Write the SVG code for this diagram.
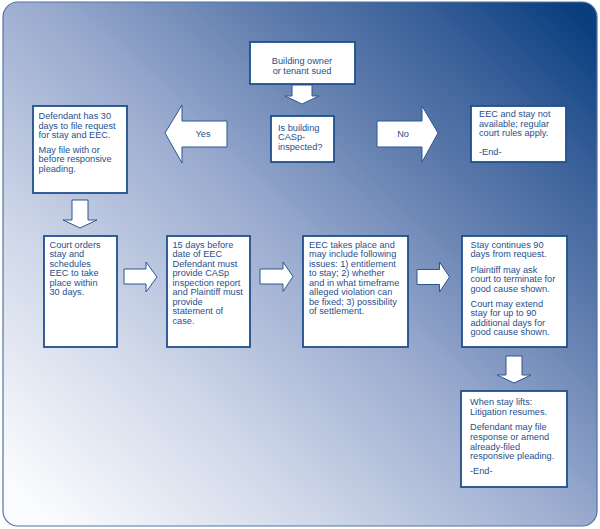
<svg xmlns="http://www.w3.org/2000/svg" width="600" height="529" viewBox="0 0 600 529">
<defs>
<linearGradient id="bg" gradientUnits="userSpaceOnUse" x1="60" y1="529" x2="560" y2="0">
<stop offset="0" stop-color="#fafbfd"/>
<stop offset="0.25" stop-color="#d0d8e9"/>
<stop offset="0.5" stop-color="#9aabcf"/>
<stop offset="0.7" stop-color="#617eae"/>
<stop offset="0.85" stop-color="#3b619a"/>
<stop offset="1" stop-color="#0a3f7f"/>
</linearGradient>
<style>
.box{fill:#fff;stroke:#1f4f8e;stroke-width:1.8}
.arr{fill:#fff;stroke:#2a5692;stroke-width:1}
text{font-family:"Liberation Sans",Arial,sans-serif;font-size:9.2px;fill:#1f4f8e}
.c{text-anchor:middle}
</style>
</defs>
<rect x="3" y="2" width="594" height="524" rx="15" ry="15" fill="url(#bg)" stroke="#4f74a8" stroke-width="1.2"/>
<g id="connectors">
<polygon class="arr" points="292,85 312,85 312,96 319,96 302,104 285,96 292,96"/>
<polygon class="arr" points="227,121 182,121 182,105 165,133 182,163 182,147 227,147"/>
<text class="c" x="203" y="136.5">Yes</text>
<polygon class="arr" points="377,121 422,121 422,106 438,133 422,162 422,147 377,147"/>
<text class="c" x="403" y="136.5">No</text>
<polygon class="arr" points="72,200 88,200 88,220 97,220 80,228 63,220 72,220"/>
<polygon class="arr" points="124,269 146,269 146,262 157,277 146,292 146,284 124,284"/>
<polygon class="arr" points="260,269 283,269 283,262 293,276.5 283,291.5 283,284 260,284"/>
<polygon class="arr" points="417,269.5 439.5,269.5 439.5,262 449.5,277 439.5,292 439.5,284.5 417,284.5"/>
<polygon class="arr" points="506,356 522,356 522,375 531,375 514,383 497,375 506,375"/>
</g>
<g id="sued">
<rect class="box" x="250" y="42" width="105" height="42"/>
<text class="c" x="302" y="63.5">Building owner</text>
<text class="c" x="302" y="74">or tenant sued</text>
</g>
<g id="inspected">
<rect class="box" x="271" y="116" width="63" height="46"/>
<text x="278" y="130.5">Is building</text>
<text x="278" y="140">CASp-</text>
<text x="278" y="149.5">inspected?</text>
</g>
<g id="defendant30">
<rect class="box" x="33" y="106" width="94" height="87"/>
<text x="38.5" y="119">Defendant has 30</text>
<text x="38.5" y="128.5">days to file request</text>
<text x="38.5" y="138">for stay and EEC.</text>
<text x="38.5" y="152.5">May file with or</text>
<text x="38.5" y="162">before responsive</text>
<text x="38.5" y="171.5">pleading.</text>
</g>
<g id="notavailable">
<rect class="box" x="471" y="106" width="95" height="56"/>
<text x="479" y="117">EEC and stay not</text>
<text x="479" y="126.5">available; regular</text>
<text x="479" y="136">court rules apply.</text>
<text x="479" y="154.5">-End-</text>
</g>
<g id="courtorders">
<rect class="box" x="44" y="236" width="73" height="111"/>
<text x="49.5" y="247.5">Court orders</text>
<text x="49.5" y="257">stay and</text>
<text x="49.5" y="266.5">schedules</text>
<text x="49.5" y="276">EEC to take</text>
<text x="49.5" y="285.5">place within</text>
<text x="49.5" y="295">30 days.</text>
</g>
<g id="fifteendays">
<rect class="box" x="167" y="236" width="83" height="111"/>
<text x="172.5" y="247.5">15 days before</text>
<text x="172.5" y="257">date of EEC</text>
<text x="172.5" y="266.5">Defendant must</text>
<text x="172.5" y="276">provide CASp</text>
<text x="172.5" y="285.5">inspection report</text>
<text x="172.5" y="295">and Plaintiff must</text>
<text x="172.5" y="304.5">provide</text>
<text x="172.5" y="314">statement of</text>
<text x="172.5" y="323.5">case.</text>
</g>
<g id="eec">
<rect class="box" x="303" y="236" width="105" height="111"/>
<text x="309" y="247.5">EEC takes place and</text>
<text x="309" y="257">may include following</text>
<text x="309" y="266.5">issues: 1) entitlement</text>
<text x="309" y="276">to stay; 2) whether</text>
<text x="309" y="285.5">and in what timeframe</text>
<text x="309" y="295">alleged violation can</text>
<text x="309" y="304.5">be fixed; 3) possibility</text>
<text x="309" y="314">of settlement.</text>
</g>
<g id="staycontinues">
<rect class="box" x="462" y="236" width="105" height="111"/>
<text x="470.5" y="247.5">Stay continues 90</text>
<text x="470.5" y="257">days from request.</text>
<text x="470.5" y="272.5">Plaintiff may ask</text>
<text x="470.5" y="282">court to terminate for</text>
<text x="470.5" y="291.5">good cause shown.</text>
<text x="470.5" y="306.5">Court may extend</text>
<text x="470.5" y="316">stay for up to 90</text>
<text x="470.5" y="325.5">additional days for</text>
<text x="470.5" y="335">good cause shown.</text>
</g>
<g id="staylifts">
<rect class="box" x="461" y="391" width="106" height="96"/>
<text x="470" y="405.3">When stay lifts:</text>
<text x="470" y="415">Litigation resumes.</text>
<text x="470" y="430.3">Defendant may file</text>
<text x="470" y="440">response or amend</text>
<text x="470" y="449.7">already-filed</text>
<text x="470" y="459.4">responsive pleading.</text>
<text x="470" y="474">-End-</text>
</g>
</svg>
